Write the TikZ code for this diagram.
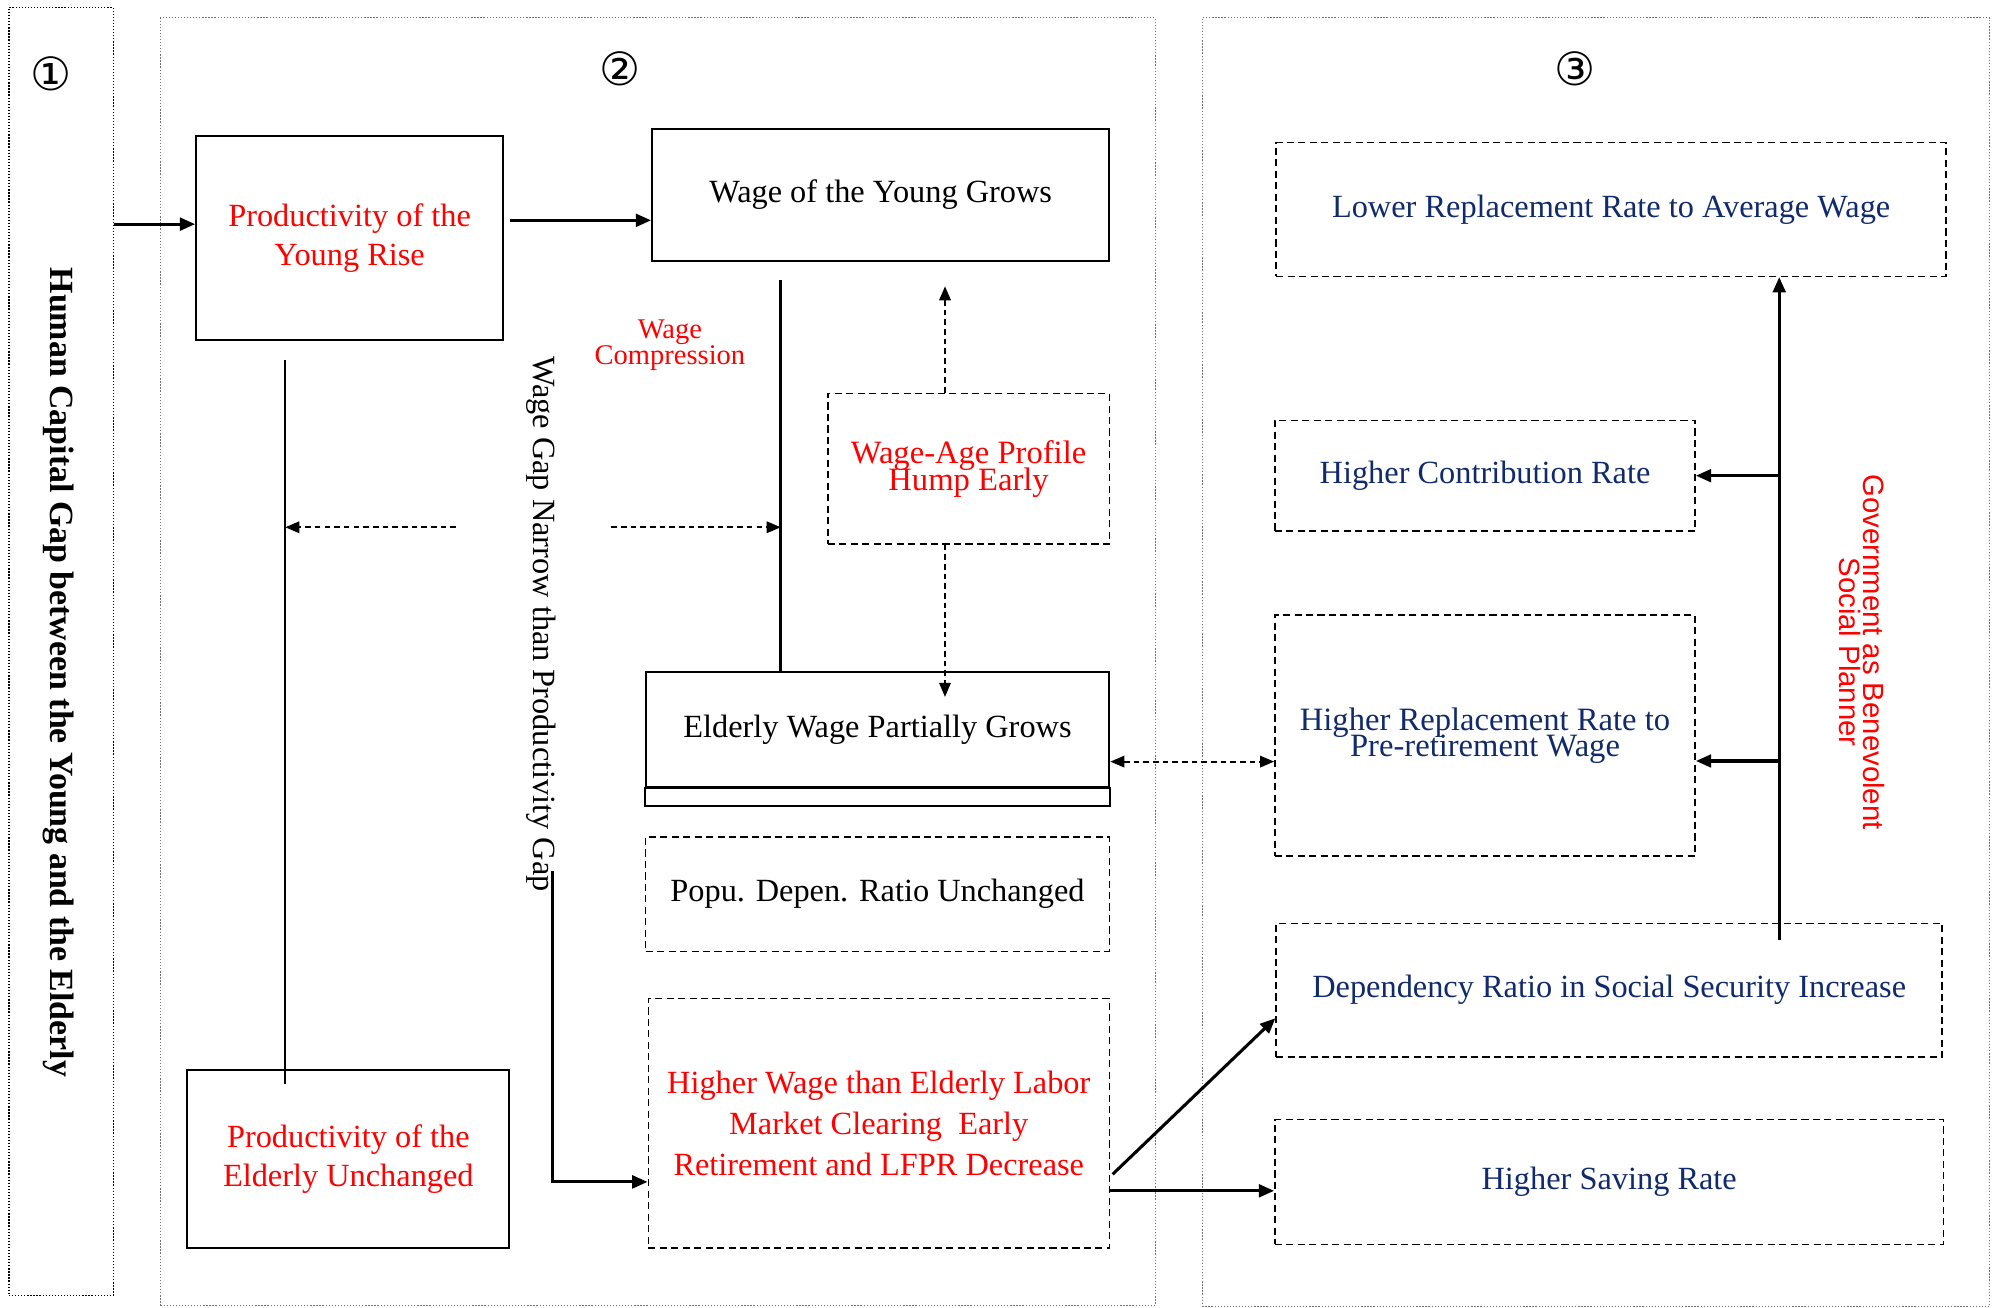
\documentclass[tikz,border=0pt]{standalone}
\usepackage{fontspec}
\setmainfont{Liberation Serif}
\newfontfamily\govfont{Liberation Sans}
\newfontfamily\numfont{DejaVu Sans}
\usepackage{xcolor}
\usepackage{tikz}
\usetikzlibrary{arrows.meta, positioning, fit, calc}
\definecolor{pnavy}{HTML}{102A6B}
\definecolor{pred}{HTML}{FF0000}
\newcommand{\tightlines}{\setlength{\lineskiplimit}{-20pt}\setlength{\lineskip}{0pt}}

\begin{document}
\begin{tikzpicture}[x=0.5pt, y=-0.5pt,
  panel/.style={draw=black!55, line width=0.5pt, dash pattern=on 0.5pt off 0.7pt, inner sep=0pt},
  solidbox/.style={draw, line width=0.8pt, inner sep=0pt, align=center, font=\fontsize{12.7}{15.5}\selectfont},
  dashbox/.style={draw, line width=0.6pt, dash pattern=on 2.8pt off 1.7pt, inner sep=0pt, align=center, font=\fontsize{12.7}{15.5}\selectfont},
  tight/.style={font=\fontsize{12.8}{#1}\selectfont\tightlines},
  num/.style={font=\numfont\fontsize{18}{18}\selectfont},
  arr/.style={-{Triangle[length=6pt,width=5pt]}, line width=1.2pt},
  darr/.style={-{Triangle[length=5.5pt,width=4.5pt]}, line width=0.7pt, dash pattern=on 2.2pt off 1.6pt},
]

  \useasboundingbox (0,0) rectangle (1568,1027);

  %% Panels
  \node[panel, draw=black, fit={(7,6) (89,1017)}] (panel1) {};
  \node[panel, fit={(126,14) (907,1025)}] (panel2) {};
  \node[panel, fit={(944,14) (1562,1026)}] (panel3) {};
  \node[num] (num1) at (40,58) {①};
  \node[num] (num2) at (487,54) {②};
  \node[num] (num3) at (1237,54) {③};
  \node[rotate=-90, font=\bfseries\fontsize{13.3}{16}\selectfont] (hcgap) at (46,528)
    {Human Capital Gap between the Young and the Elderly};

  %% Panel 2: wages and labour market
  \node[solidbox, text=pred, minimum width=120.5pt, minimum height=80pt] (youngprod) at (274.5,187)
    {Productivity of the\\Young Rise};
  \node[solidbox, minimum width=179.5pt, minimum height=52pt] (wageyoung) at (691.5,153) {Wage of the Young Grows};
  \node[dashbox, text=pred, tight=10.5pt, minimum width=110.5pt, minimum height=59pt] (wageage) at (760.5,368)
    {Wage-Age Profile\\Hump Early};
  \node[solidbox, minimum width=182pt, minimum height=45pt] (elderwage) at (689,573) {Elderly Wage Partially Grows};
  \draw[line width=0.8pt] (elderwage.south west) rectangle ($(elderwage.south east)+(0,14)$);
  \node[dashbox, minimum width=182pt, minimum height=45pt] (popu) at (689,702) {Popu. Depen. Ratio Unchanged};
  \node[dashbox, text=pred, font=\fontsize{12.7}{16}\selectfont, minimum width=181pt, minimum height=98pt] (higherwage) at (690,882)
    {Higher Wage than Elderly Labor\\Market Clearing\ \ Early\\Retirement and LFPR Decrease};
  \node[solidbox, text=pred, minimum width=126.5pt, minimum height=70pt] (elderprod) at (273.5,910)
    {Productivity of the\\Elderly Unchanged};

  \node[text=pred, align=center, font=\fontsize{11.2}{10}\selectfont\tightlines] (wcomp) at (526,271) {Wage\\Compression};
  \node[rotate=-90, font=\fontsize{12.7}{15}\selectfont] (gapnote) at (425,490)
    {Wage Gap Narrow than Productivity Gap};

  %% Panel 3: social security
  \node[dashbox, text=pnavy, minimum width=263pt, minimum height=52.5pt] (lowerrep) at (1265,164.5)
    {Lower Replacement Rate to Average Wage};
  \node[dashbox, text=pnavy, minimum width=165pt, minimum height=43.5pt] (contrib) at (1166,373.5) {Higher Contribution Rate};
  \node[dashbox, text=pnavy, tight=10pt, minimum width=165pt, minimum height=94.5pt] (higherrep) at (1166,577.5)
    {Higher Replacement Rate to\\Pre-retirement Wage};
  \node[dashbox, text=pnavy, minimum width=261.5pt, minimum height=52.5pt] (depend) at (1263.5,777.5)
    {Dependency Ratio in Social Security Increase};
  \node[dashbox, text=pnavy, minimum width=262.5pt, minimum height=49pt] (saving) at (1263.5,928) {Higher Saving Rate};
  \node[rotate=-90, text=pred, align=center, font=\govfont\fontsize{11.5}{9.5}\selectfont\tightlines] (govnote) at (1462,512)
    {Government as Benevolent\\Social Planner};

  %% Connectors
  \coordinate (yin) at ($(youngprod.west)+(0,-11)$);
  \draw[arr] (panel1.east |- yin) -- (yin);
  \coordinate (ywin) at ($(wageyoung.west)+(0,20)$);
  \draw[arr] ($(youngprod.east |- ywin)+(5,0)$) -- (ywin);

  \coordinate (gapline) at (224,283);
  \draw[line width=0.7pt] (gapline) -- ($(gapline |- elderprod.north)+(0,12)$);
  \coordinate (compline) at (613,220);
  \draw[line width=1pt] (compline) -- (compline |- elderwage.north);
  \coordinate (gapL) at (358,414);
  \coordinate (gapR) at (480,414);
  \draw[darr] (gapL) -- (gapL -| gapline);
  \draw[darr] (gapR) -- (gapR -| compline);

  \coordinate (wx) at (742,0);
  \draw[darr] (wageage.north -| wx) -- ($(wageyoung.south -| wx)+(0,19)$);
  \draw[darr] (wageage.south -| wx) -- ($(elderwage.north -| wx)+(0,20)$);

  \coordinate (gapend) at (434,684);
  \coordinate (hwin) at ($(higherwage.west)+(0,46)$);
  \draw[arr] (gapend) |- (hwin);

  \coordinate (ewout) at ($(elderwage.east)+(0,25)$);
  \draw[darr, {Triangle[length=5.5pt,width=4.5pt]}-{Triangle[length=5.5pt,width=4.5pt]}] (ewout) -- (ewout -| higherrep.west);

  \draw[arr] ($(higherwage.east)+(2,40)$) -- ($(depend.west)+(0,22)$);
  \coordinate (hwout) at ($(higherwage.east)+(0,53)$);
  \draw[arr] (hwout) -- (hwout -| saving.west);

  \coordinate (govbot) at (1397,738);
  \draw[arr] (govbot) -- (govbot |- lowerrep.south);
  \draw[arr] (govbot |- contrib.east) -- (contrib.east);
  \coordinate (hrin) at ($(higherrep.east)+(0,20)$);
  \draw[arr] (govbot |- hrin) -- (hrin);

\end{tikzpicture}
\end{document}
